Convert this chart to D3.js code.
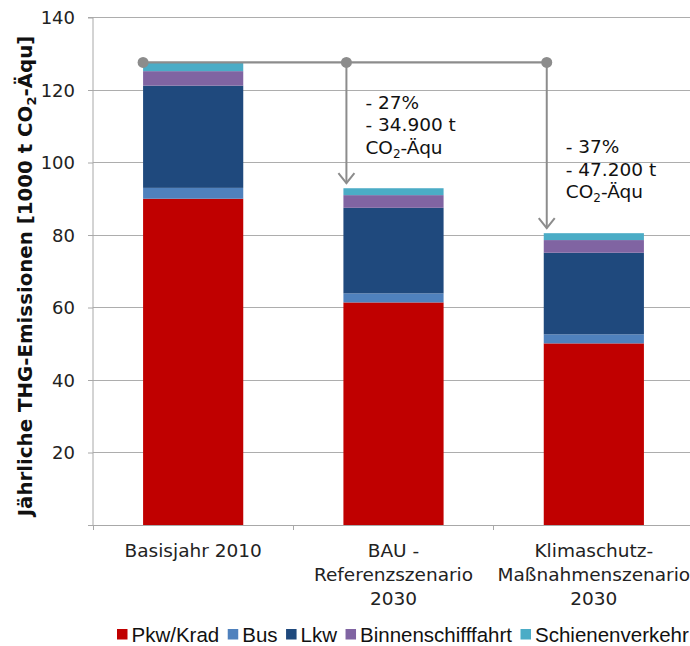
<!DOCTYPE html>
<html><head><meta charset="utf-8">
<script src="https://cdn.jsdelivr.net/npm/d3@7"></script>
<style>body{margin:0;background:#fff}svg{display:block}</style>
</head><body>
<script>
const categories = [["Basisjahr 2010"], ["BAU -", "Referenzszenario", "2030"], ["Klimaschutz-", "Maßnahmenszenario", "2030"]];
const seriesNames = ["Pkw/Krad", "Bus", "Lkw", "Binnenschifffahrt", "Schienenverkehr"];
const seriesColors = ["#C00000", "#4F81BD", "#1F497D", "#8064A2", "#4BACC6"];
const pkw = [90.0, 61.4, 50.1];
const bus = [3.0, 2.5, 2.5];
const lkw = [28.2, 23.6, 22.5];
const binnen = [4.0, 3.5, 3.5];
const schiene = [2.4, 1.9, 1.9];
const yTicks = [0, 20, 40, 60, 80, 100, 120, 140];
const annotations = [null, ["- 27%", "- 34.900 t", "CO2-Äqu"], ["- 37%", "- 47.200 t", "CO2-Äqu"]];

const W = 690, H = 646;
const m = {l: 93, r: 694, t: 17.5, b: 525};
const svg = d3.select("body").append("svg").attr("width", W).attr("height", H);

const rows = categories.map((c, i) => ({i, v: [pkw[i], bus[i], lkw[i], binnen[i], schiene[i]]}));
const x = d3.scaleBand().domain(d3.range(categories.length)).range([m.l, m.r]).paddingInner(0.5).paddingOuter(0.25);
const xb = d3.scaleBand().domain(d3.range(categories.length)).range([m.l, m.r]);
const y = d3.scaleLinear().domain([0, 140]).range([m.b, m.t]);

// gridlines
svg.append("g").selectAll("line").data(yTicks.filter(d => d > 0)).join("line")
  .attr("x1", m.l).attr("x2", m.r).attr("y1", d => y(d)).attr("y2", d => y(d))
  .attr("stroke", "#ADADAD").attr("stroke-width", 1).attr("shape-rendering", "crispEdges");

// y axis
const ya = svg.append("g").attr("transform", `translate(${m.l},0)`)
  .call(d3.axisLeft(y).tickValues(yTicks).tickSize(5).tickPadding(13).tickFormat(d => d === 0 ? "" : d));
ya.select(".domain").attr("stroke", "#A8A8A8").attr("d", `M-5,${y(140)}H0V${y(0)}`);
ya.selectAll(".tick line").attr("stroke", "#A8A8A8");
ya.selectAll(".tick text").attr("font-family", "DejaVu Sans").attr("font-size", 18).attr("fill", "#222").attr("dy", "0.36em");

// stacked bars
const stack = d3.stack().keys(d3.range(5)).value((d, k) => d.v[k]);
const layers = stack(rows);
svg.append("g").selectAll("g").data(layers).join("g").attr("fill", (d, k) => seriesColors[k])
  .selectAll("rect").data(d => d).join("rect")
  .attr("x", d => x(d.data.i)).attr("width", x.bandwidth())
  .attr("y", d => y(d[1])).attr("height", d => y(d[0]) - y(d[1]));

// x axis
svg.append("line").attr("x1", m.l - 5).attr("x2", m.r).attr("y1", m.b).attr("y2", m.b)
  .attr("stroke", "#A8A8A8").attr("shape-rendering", "crispEdges");
svg.append("g").selectAll("line").data(d3.range(categories.length + 1)).join("line")
  .attr("x1", i => i < categories.length ? xb(i) : m.r).attr("x2", i => i < categories.length ? xb(i) : m.r)
  .attr("y1", m.b).attr("y2", m.b + 5).attr("stroke", "#A8A8A8").attr("shape-rendering", "crispEdges");
const xl = svg.append("g").selectAll("text").data(categories).join("text")
  .attr("x", (d, i) => xb(i) + xb.bandwidth() / 2).attr("y", 557)
  .attr("text-anchor", "middle").attr("font-family", "DejaVu Sans").attr("font-size", 18.5).attr("fill", "#222");
xl.selectAll("tspan").data(d => d).join("tspan")
  .attr("x", function() { return this.parentNode.getAttribute("x"); })
  .attr("dy", (d, j) => j === 0 ? 0 : 24).text(d => d);

// y title
const yt = svg.append("text").attr("transform", `translate(31.5,276) rotate(-90)`)
  .attr("text-anchor", "middle").attr("font-family", "DejaVu Sans").attr("font-weight", "bold")
  .attr("font-size", 19.8).attr("fill", "#111");
yt.append("tspan").text("Jährliche THG-Emissionen [1000 t CO");
yt.append("tspan").attr("font-size", 13).attr("dy", 4).text("2");
yt.append("tspan").attr("dy", -4).text("-Äqu]");

// annotations
const totals = rows.map(r => d3.sum(r.v));
const refY = y(totals[0]);
const dotX = rows.map((r, i) => x(i) + (i === 0 ? 0 : 3));
const gray = "#8C8C8C";
svg.append("line").attr("x1", dotX[0]).attr("x2", dotX[dotX.length - 1]).attr("y1", refY).attr("y2", refY)
  .attr("stroke", gray).attr("stroke-width", 2.2);
rows.forEach((r, i) => {
  if (i > 0) {
    const tip = y(totals[i]) - 5;
    svg.append("line").attr("x1", dotX[i]).attr("x2", dotX[i]).attr("y1", refY).attr("y2", tip)
      .attr("stroke", gray).attr("stroke-width", 2);
    svg.append("path").attr("d", `M${dotX[i] - 8},${tip - 10}L${dotX[i]},${tip}L${dotX[i] + 8},${tip - 10}`)
      .attr("fill", "none").attr("stroke", gray).attr("stroke-width", 2);
    const lines = annotations[i];
    const t0 = i === 1 ? 108.5 : 153;
    lines.forEach((s, j) => {
      const t = svg.append("text").attr("x", dotX[i] + 19).attr("y", t0 + j * 22.5)
        .attr("font-family", "DejaVu Sans").attr("font-size", 18.5).attr("fill", "#111");
      if (s.startsWith("CO2")) {
        t.append("tspan").text("CO");
        t.append("tspan").attr("font-size", 12).attr("dy", 4).text("2");
        t.append("tspan").attr("dy", -4).text(s.slice(3));
      } else t.text(s);
    });
  }
  svg.append("circle").attr("cx", dotX[i]).attr("cy", refY).attr("r", 5.5).attr("fill", gray);
});

// legend
const lg = svg.append("g").attr("font-family", "Liberation Sans").attr("font-size", 20.5).attr("fill", "#111");
let lx = 117;
seriesNames.forEach((n, k) => {
  lg.append("rect").attr("x", lx).attr("y", 629).attr("width", 10.5).attr("height", 10.5).attr("fill", seriesColors[k]);
  const t = lg.append("text").attr("x", lx + 14.5).attr("y", 641.5).text(n);
  lx += 14.5 + t.node().getComputedTextLength() + 8.5;
});
</script>
</body></html>
